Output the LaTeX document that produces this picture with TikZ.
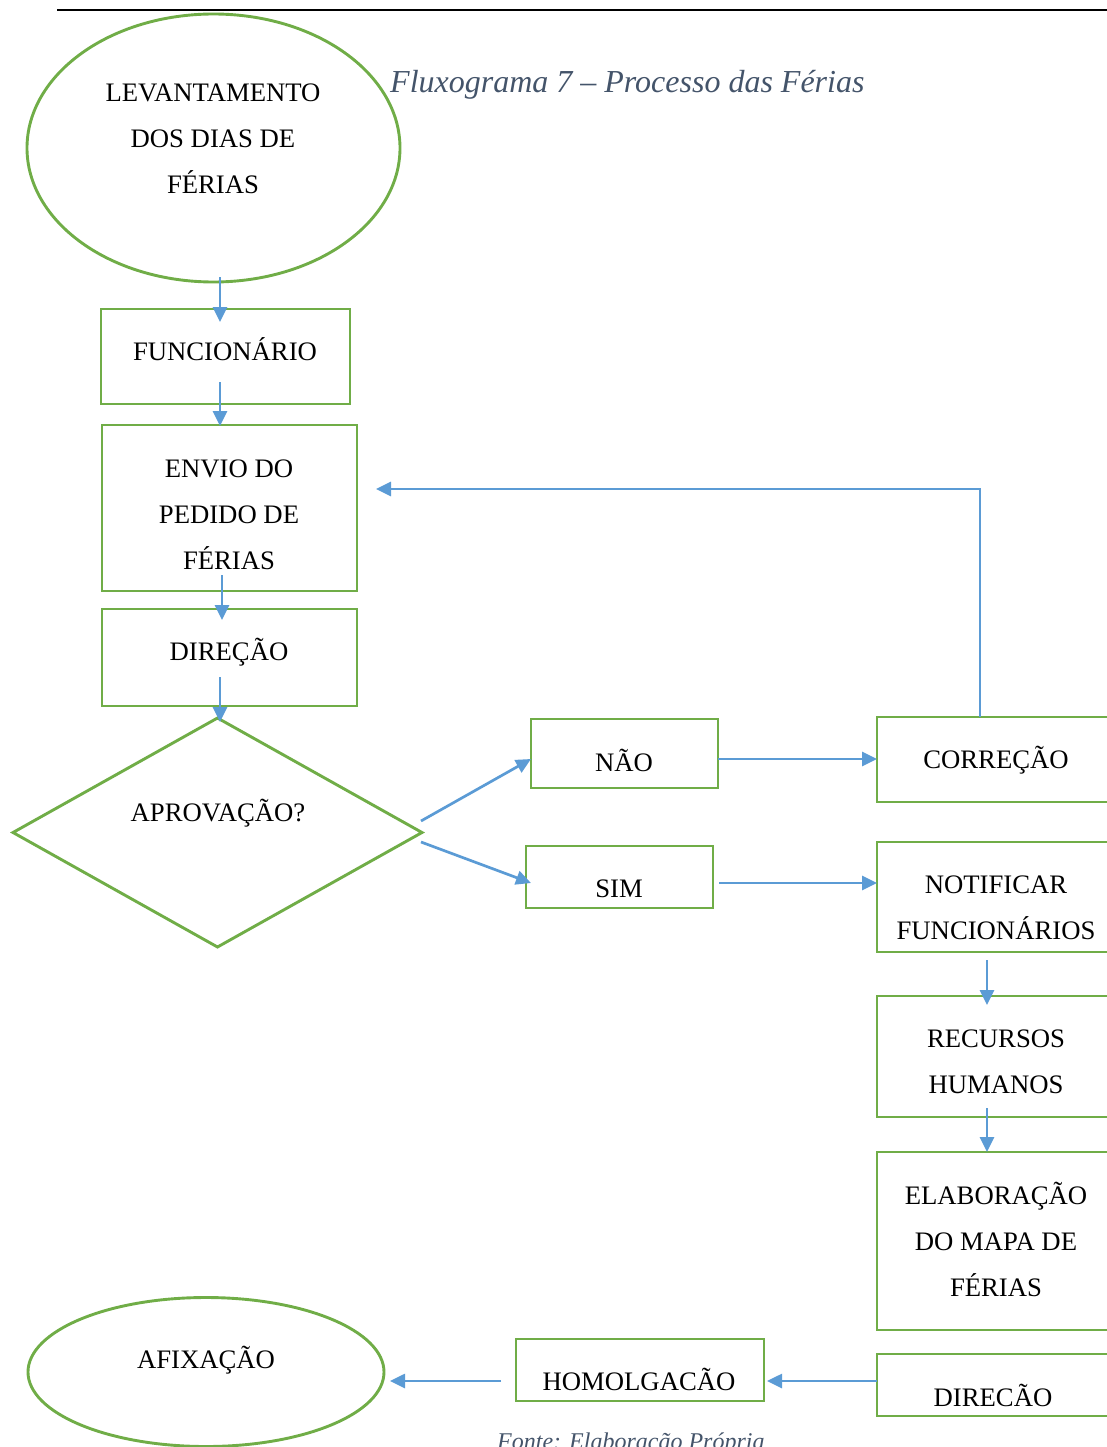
\documentclass[tikz,border=0pt]{standalone}
\usepackage{fontspec}
\setmainfont{Liberation Serif}
\usetikzlibrary{shapes.geometric,arrows.meta}
\definecolor{boxgreen}{HTML}{70AD47}
\definecolor{flowblue}{HTML}{5B9BD5}
\definecolor{captiongray}{HTML}{44546A}
\begin{document}
\begin{tikzpicture}[x=1pt,y=-1pt,
  shapebox/.style={draw=boxgreen, line width=2.9pt, rectangle, inner sep=0pt, outer sep=0pt},
  roundbox/.style={draw=boxgreen, line width=2.9pt, ellipse, inner sep=0pt, outer sep=0pt},
  decision/.style={draw=boxgreen, line width=2.9pt, diamond, inner sep=0pt, outer sep=0pt},
  lbl/.style={font=\fontsize{26.7}{46}\selectfont, align=center, inner sep=0pt},
  oneline/.style={lbl, text height=17.7pt, text depth=0pt},
  arr/.style={draw=flowblue, line width=2.7pt, -{Triangle[length=15pt,width=14pt]}},
  heading/.style={font=\fontsize{32}{38}\selectfont\itshape, text=captiongray, inner sep=0pt, anchor=base west},
  source/.style={font=\fontsize{24}{28}\selectfont\itshape, text=captiongray, inner sep=0pt, anchor=base west},
]
\useasboundingbox (0,0) rectangle (1107,1447);
\clip (0,0) rectangle (1107,1447);

% page rule and heading
\draw[line width=2.5pt] (57,10) -- (1107,10);
\node[heading] (title) at (390,93) {Fluxograma 7 – Processo das Férias};

% left column
\node[roundbox, minimum width=373pt, minimum height=268pt] (start) at (213.5,148) {};
\node[lbl] (startT) at (213,139) {LEVANTAMENTO\\DOS DIAS DE\\FÉRIAS};

\node[shapebox, minimum width=249pt, minimum height=95pt] (func) at (225.5,356.5) {};
\node[oneline] (funcT) at (225,352) {FUNCIONÁRIO};

\node[shapebox, minimum width=255pt, minimum height=166pt] (envio) at (229.5,508) {};
\node[lbl] (envioT) at (229,515) {ENVIO DO\\PEDIDO DE\\FÉRIAS};

\node[shapebox, minimum width=255pt, minimum height=97pt] (dir) at (229.5,657.5) {};
\node[oneline] (dirT) at (229,652) {DIREÇÃO};

\node[decision, minimum width=409pt, minimum height=229pt] (aprov) at (217.5,832.5) {};
\node[oneline] (aprovT) at (218,813) {APROVAÇÃO?};

% answers
\node[shapebox, minimum width=187pt, minimum height=69pt] (nao) at (624.5,753.5) {};
\node[oneline] (naoT) at (624,763) {NÃO};

\node[shapebox, minimum width=187pt, minimum height=62pt] (sim) at (619.5,877) {};
\node[oneline] (simT) at (619,889) {SIM};

% right column
\node[shapebox, minimum width=238pt, minimum height=85pt] (corr) at (996,759.5) {};
\node[oneline] (corrT) at (996,760) {CORREÇÃO};

\node[shapebox, minimum width=238pt, minimum height=110pt] (notif) at (996,897) {};
\node[lbl] (notifT) at (996,908) {NOTIFICAR\\FUNCIONÁRIOS};

\node[shapebox, minimum width=238pt, minimum height=121pt] (rh) at (996,1056.5) {};
\node[lbl] (rhT) at (996,1062) {RECURSOS\\HUMANOS};

\node[shapebox, minimum width=238pt, minimum height=178pt] (mapa) at (996,1241) {};
\node[lbl] (mapaT) at (996,1239) {ELABORAÇÃO\\DO MAPA DE\\FÉRIAS};

\node[shapebox, minimum width=238pt, minimum height=62pt] (dir2) at (996,1385) {};
\node[oneline] (dir2T) at (993,1398) {DIRECÃO};

% bottom row
\node[shapebox, minimum width=248pt, minimum height=62pt] (homol) at (640,1370) {};
\node[oneline] (homolT) at (639,1382) {HOMOLGACÃO};

\node[roundbox, minimum width=356pt, minimum height=149pt] (afix) at (206,1372) {};
\node[oneline] (afixT) at (206,1360) {AFIXAÇÃO};

\node[source] (fonte) at (497,1449) {Fonte: Elaboração Própria};

% connectors
\draw[arr] ([xshift=6.5pt,yshift=5pt]start.south) -- ([xshift=-5.5pt,yshift=-13pt]func.north);
\draw[arr] ([xshift=-5.5pt,yshift=22pt]func.south) -- ([xshift=-9.5pt,yshift=-1pt]envio.north);
\draw[arr] ([xshift=-7.5pt,yshift=16pt]envio.south) -- ([xshift=-7.5pt,yshift=-11pt]dir.north);
\draw[arr] ([xshift=-9.5pt,yshift=29pt]dir.south) -- ([xshift=2.5pt,yshift=-4pt]aprov.north);
\draw[arr] ([xshift=-1pt,yshift=11.5pt]aprov.east) -- ([yshift=-5.5pt]nao.west);
\draw[arr] ([xshift=-1pt,yshift=-9.5pt]aprov.east) -- ([xshift=5pt,yshift=-6pt]sim.west);
\draw[arr] ([yshift=-5.5pt]nao.east) -- ([yshift=0.5pt]corr.west);
\draw[arr] ([xshift=6pt,yshift=-6pt]sim.east) -- ([yshift=14pt]notif.west);
\draw[arr] ([xshift=-16pt]corr.north) |- ([xshift=19pt,yshift=19pt]envio.east);
\draw[arr] ([xshift=-9pt,yshift=-8pt]notif.south) -- ([xshift=-9pt,yshift=-9pt]rh.north);
\draw[arr] ([xshift=-9pt,yshift=9pt]rh.south) -- ([xshift=-9pt]mapa.north);
\draw[arr] ([yshift=4pt]dir2.west) -- ([xshift=3pt,yshift=-11pt]homol.east);
\draw[arr] ([xshift=-15pt,yshift=-11pt]homol.west) -- ([xshift=6pt,yshift=-9pt]afix.east);
\end{tikzpicture}
\end{document}
